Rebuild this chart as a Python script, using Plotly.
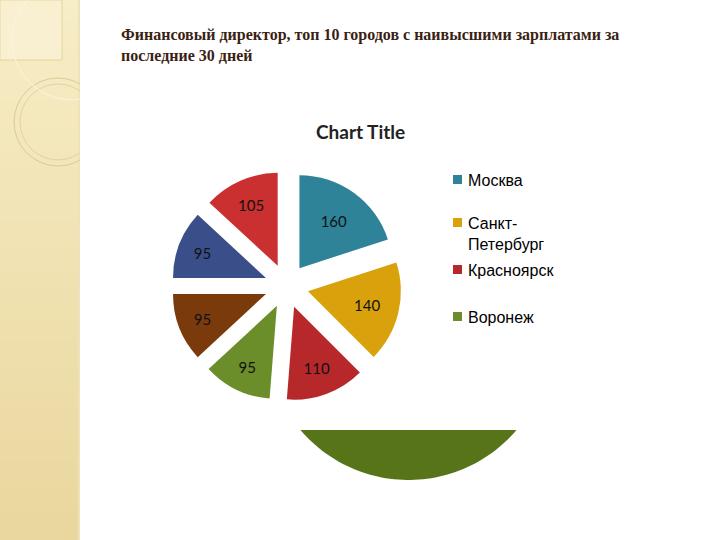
import numpy as np
import plotly.graph_objects as go

# ---- data ----
cities = ["Москва", "Санкт-Петербург", "Красноярск", "Воронеж",
          "Город 5", "Город 6", "Город 7"]
salaries = [160, 140, 110, 95, 95, 95, 105]
colors = ["#2e8399", "#d9a20c", "#b7282b", "#6b8e2a", "#7b3a0c", "#3a4f8a", "#c9302f"]
legend_labels = ["Москва", "Санкт-<br>Петербург", "Красноярск", "Воронеж"]
legend_colors = colors[:4]
legend_y_px = [180, 223, 270, 317]

W, H = 720, 540


def px(x):
    return x / W


def py(y):
    return 1 - y / H


fig = go.Figure()
fig.add_trace(go.Pie(
    labels=cities, values=salaries, sort=False, direction="clockwise",
    rotation=0, pull=0.237,
    marker=dict(colors=colors, line=dict(width=0)),
    textinfo="value", textposition="inside", insidetextorientation="horizontal",
    textfont=dict(family="Lato", size=15, color="#111111"),
    domain=dict(x=[px(171.5), px(401.5)], y=[py(401), py(171)]),
    showlegend=False, hoverinfo="label+value",
))

shapes = []
# left decorative band with vertical gradient made of thin strips
top_rgb = np.array([247, 237, 198])
bot_rgb = np.array([234, 215, 158])
n_strips = 54
for i in range(n_strips):
    t = i / (n_strips - 1)
    c = (top_rgb * (1 - t) + bot_rgb * t).astype(int)
    shapes.append(dict(type="rect", xref="paper", yref="paper", x0=0, x1=px(78),
                       y0=py((i + 1) * H / n_strips + 0.5), y1=py(i * H / n_strips),
                       fillcolor=f"rgb({c[0]},{c[1]},{c[2]})", line=dict(width=0), layer="below"))
shapes.append(dict(type="rect", xref="paper", yref="paper", x0=0, x1=px(62), y0=py(60), y1=1,
                   fillcolor="#f9f0d2", line=dict(color="#e6d59c", width=1), layer="below"))
shapes.append(dict(type="line", xref="paper", yref="paper", x0=px(79), x1=px(79), y0=0, y1=1,
                   line=dict(color="#efe2bb", width=2), layer="below"))
for cx, cy, r, col in [(58, 122, 44, "#ddc99a"), (58, 122, 38, "#e2d2a6"), (72, 40, 60, "#fbf5df")]:
    shapes.append(dict(type="circle", xref="paper", yref="paper",
                       x0=px(cx - r), x1=px(cx + r), y0=py(cy + r), y1=py(cy - r),
                       line=dict(color=col, width=1), layer="below"))
# cover circle parts outside band
shapes.append(dict(type="rect", xref="paper", yref="paper", x0=px(80), x1=px(140), y0=py(180), y1=1,
                   fillcolor="white", line=dict(width=0), layer="below"))

# bottom green segment artefact
ang = np.linspace(np.arcsin((430 - 338.4) / 141.6), np.pi - np.arcsin((430 - 338.4) / 141.6), 60)
xs = 408.5 + 141.6 * np.cos(ang)
ys = 338.4 + 141.6 * np.sin(ang)
path = "M " + " L ".join(f"{px(x):.5f},{py(y):.5f}" for x, y in zip(xs, ys)) + " Z"
shapes.append(dict(type="path", xref="paper", yref="paper", path=path,
                   fillcolor="#587419", line=dict(width=0)))

annotations = [
    dict(text="<b>Финансовый директор, топ 10 городов с наивысшими зарплатами за<br>последние 30 дней</b>",
         x=px(119), y=py(24), xref="paper", yref="paper", xanchor="left", yanchor="top",
         align="left", showarrow=False,
         font=dict(family="Liberation Serif", size=16, color="#3b1f14")),
    dict(text="<b>Chart Title</b>", x=px(360), y=py(131), xref="paper", yref="paper",
         xanchor="center", yanchor="middle", showarrow=False,
         font=dict(family="Lato", size=19, color="#222222")),
]
for lab, col, yy in zip(legend_labels, legend_colors, legend_y_px):
    shapes.append(dict(type="rect", xref="paper", yref="paper",
                       x0=px(453), x1=px(462), y0=py(yy + 4), y1=py(yy - 5),
                       fillcolor=col, line=dict(width=0)))
    annotations.append(dict(text=lab, x=px(466), y=py(yy - 10), xref="paper", yref="paper",
                            xanchor="left", yanchor="top", align="left", showarrow=False,
                            font=dict(family="Liberation Sans", size=16, color="#000000")))

fig.update_layout(width=W, height=H, margin=dict(l=0, r=0, t=0, b=0),
                  paper_bgcolor="white", plot_bgcolor="white",
                  shapes=shapes, annotations=annotations)
fig.write_html("out.html", config={"displayModeBar": False},
               post_script="document.body.style.margin='0px';document.body.style.overflow='hidden';")
